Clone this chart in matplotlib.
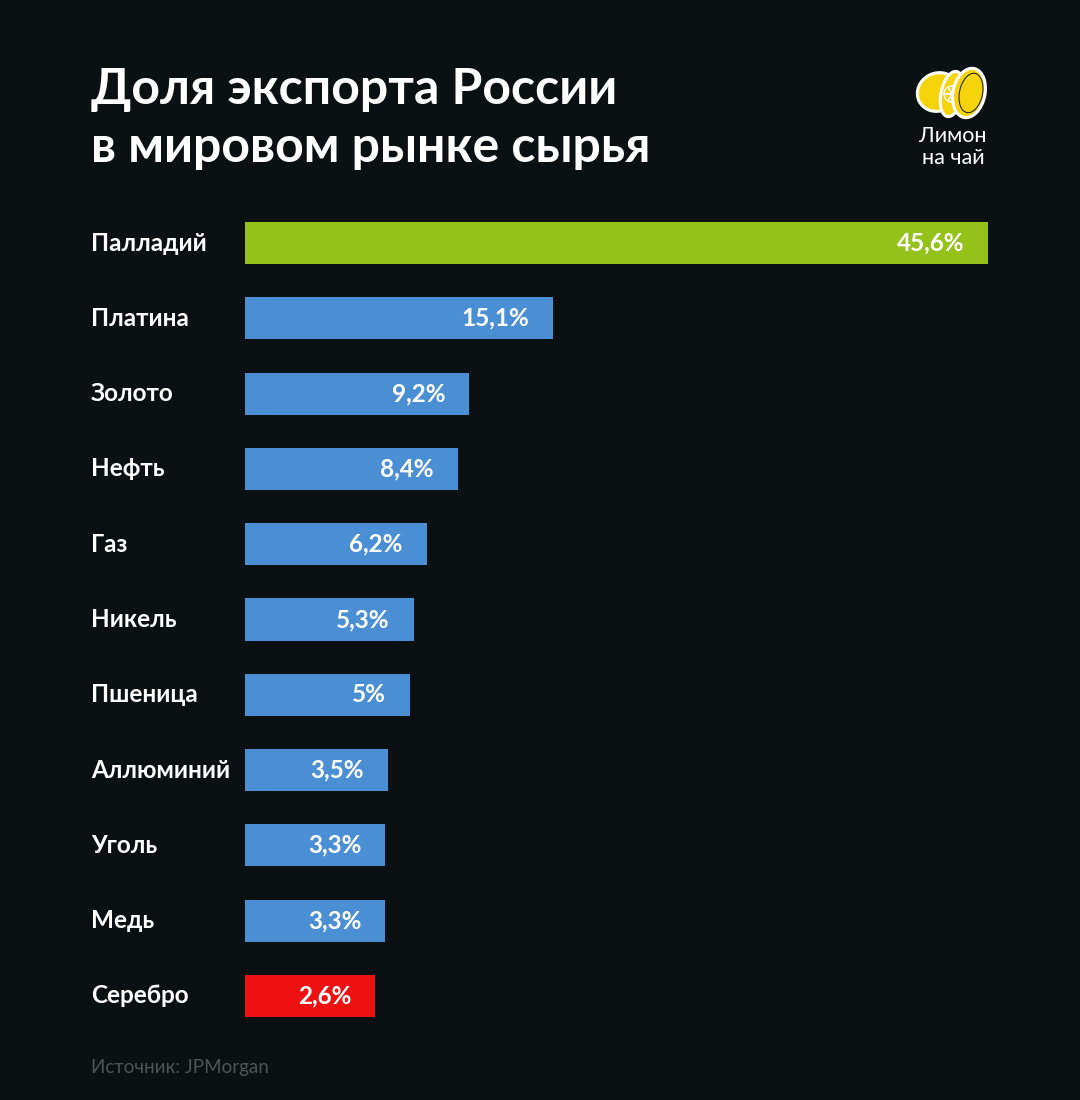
import numpy as np
import matplotlib.pyplot as plt
from matplotlib.patches import Ellipse, Wedge
from matplotlib.transforms import blended_transform_factory, offset_copy

plt.rcParams['font.family'] = ['Lato', 'DejaVu Sans']

categories = ['Палладий', 'Платина', 'Золото', 'Нефть', 'Газ', 'Никель',
              'Пшеница', 'Аллюминий', 'Уголь', 'Медь', 'Серебро']
shares = [45.6, 15.1, 9.2, 8.4, 6.2, 5.3, 5.0, 3.5, 3.3, 3.3, 2.6]
value_labels = ['45,6%', '15,1%', '9,2%', '8,4%', '6,2%', '5,3%',
                '5%', '3,5%', '3,3%', '3,3%', '2,6%']

BG = '#0b1013'
GREEN = '#94c11a'
BLUE = '#4a8fd3'
RED = '#ee1111'
LEMON = '#f6d40c'
colors = [GREEN] + [BLUE] * 9 + [RED]

# bars start a bit left of zero so the short ones stay readable
BASE = -6.55

W, H = 1080, 1100
fig = plt.figure(figsize=(W / 100, H / 100), dpi=100, facecolor=BG)

ax = fig.add_axes([245 / W, 1 - 1033.6 / H, 743 / W, 828.2 / H])
ax.set_facecolor(BG)
y = np.arange(len(categories))
vals = np.array(shares)
ax.barh(y, vals - BASE, left=BASE, height=0.56, color=colors)
ax.set_xlim(BASE, max(shares))
ax.set_ylim(len(categories) - 0.5, -0.5)
ax.axis('off')

lab_tr = blended_transform_factory(fig.transFigure, ax.transData)
val_tr = offset_copy(ax.transData, fig=fig, x=-24, y=0, units='dots')
for i, (cat, v, txt) in enumerate(zip(categories, shares, value_labels)):
    fig.text(91 / W, i, cat, transform=lab_tr, ha='left', va='center',
             color='white', fontsize=17.5, fontweight='bold')
    ax.text(v, i, txt, transform=val_tr, ha='right', va='center',
            color='white', fontsize=17.5, fontweight='bold')

# title
fig.text(91 / W, 1 - 89 / H, 'Доля экспорта России', ha='left', va='center',
         color='white', fontsize=36, fontweight='bold')
fig.text(91 / W, 1 - 147 / H, 'в мировом рынке сырья', ha='left', va='center',
         color='white', fontsize=36, fontweight='bold')

# source
fig.text(91 / W, 1 - 1068 / H, 'Источник: JPMorgan', ha='left', va='center',
         color='#4f5456', fontsize=13.5)

# logo
fig.text(953 / W, 1 - 136 / H, 'Лимон', ha='center', va='center',
         color='white', fontsize=15.5)
fig.text(953 / W, 1 - 158 / H, 'на чай', ha='center', va='center',
         color='white', fontsize=15.5)

lx = fig.add_axes([914 / W, 1 - 122 / H, 76 / W, 58 / H])
lx.set_xlim(0, 76)
lx.set_ylim(0, 58)
lx.set_aspect('equal')
lx.axis('off')
lx.add_patch(Ellipse((24, 30), 42, 38, angle=25, facecolor=LEMON,
                     edgecolor='white', lw=2.2))
lx.add_patch(Ellipse((38, 28), 22, 46, angle=-12, facecolor=LEMON,
                     edgecolor='white', lw=2.2))
for a in range(0, 360, 60):
    lx.add_patch(Wedge((38, 28), 8, a, a + 60, facecolor=LEMON,
                       edgecolor='white', lw=1))
lx.add_patch(Ellipse((55, 29), 32, 50, angle=-12, facecolor=LEMON,
                     edgecolor='white', lw=2.2))
lx.add_patch(Ellipse((57, 29), 23, 40, angle=-12, facecolor='none',
                     edgecolor='#2a2a2a', lw=0.8))

fig.savefig('out.png', dpi=100, facecolor=BG)
